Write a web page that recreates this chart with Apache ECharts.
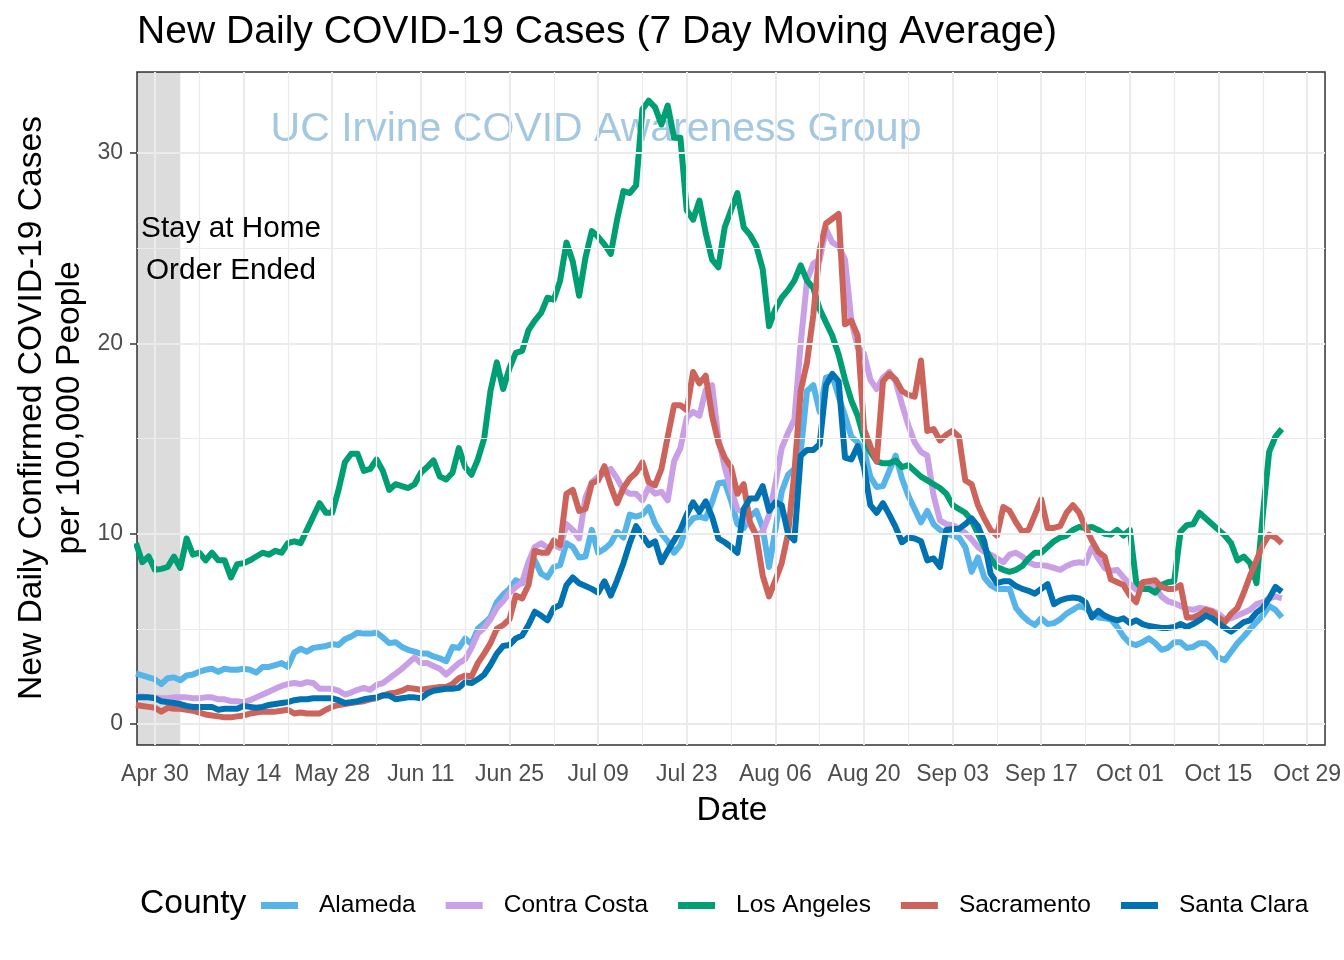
<!DOCTYPE html>
<html><head><meta charset="utf-8">
<script src="https://cdn.jsdelivr.net/npm/echarts@6/dist/echarts.min.js"></script>
<style>html,body{margin:0;padding:0;background:#fff}#chart{width:1344px;height:960px}</style>
</head><body><div id="chart"></div>
<script>
// ---- data (daily 7-day moving average, new cases per 100,000), first day 2020-04-27 ----
const startDate = '2020-04-27';
const countyNames = ['Alameda', 'Contra Costa', 'Los Angeles', 'Sacramento', 'Santa Clara'];

const alameda = [
  2.65, 2.55, 2.45, 2.35, 2.1, 2.4, 2.45,
  2.3, 2.55, 2.6, 2.75, 2.85, 2.9, 2.75,
  2.9, 2.85, 2.85, 2.9, 2.85, 2.7, 3.0,
  3.0, 3.1, 3.2, 3.0, 3.75, 3.95, 3.8,
  4.0, 4.05, 4.1, 4.2, 4.15, 4.45, 4.6,
  4.8, 4.75, 4.75, 4.8, 4.55, 4.25, 4.3,
  4.05, 3.9, 3.8, 3.7, 3.7, 3.55, 3.45,
  3.3, 4.05, 4.0, 4.5, 4.2, 5.0, 5.3,
  5.6, 6.4, 6.8, 7.1, 7.55, 7.4, 8.3,
  8.6, 7.9, 7.7, 8.25, 8.35, 9.5, 9.3,
  8.75, 8.8, 10.2, 9.0, 9.2, 9.5, 10.1,
  9.8, 11.0, 10.9, 11.0, 11.4, 10.55, 10.0,
  9.6, 9.0, 9.4, 10.4, 10.8, 10.9, 10.8,
  11.65, 12.65, 12.7, 11.75, 10.5, 10.3, 10.9,
  11.2, 10.3, 8.25, 10.2, 12.2, 13.1, 13.4,
  14.3, 17.5, 17.8, 16.4, 18.2, 18.3, 17.2,
  16.2, 15.1, 14.8, 14.4, 13.0, 12.45, 12.5,
  13.3, 14.1, 12.9, 12.0, 11.3, 10.6, 11.2,
  10.5, 10.2, 10.0, 9.9, 9.8, 9.3, 8.0,
  8.75, 7.7, 7.3, 7.1, 7.1, 7.1, 6.1,
  5.7, 5.4, 5.2, 5.55, 5.25, 5.3, 5.5,
  5.8, 6.0, 6.2, 6.1, 5.8, 5.6, 5.55,
  5.5, 5.1, 4.6, 4.25, 4.15, 4.3, 4.5,
  4.25, 3.9, 4.0, 4.3, 4.3, 4.0, 4.05,
  4.25, 4.25, 3.95, 3.5, 3.35, 3.8, 4.25,
  4.6, 5.0, 5.35, 5.7, 6.2, 6.0, 5.6
];
const contraCosta = [
  1.45, 1.45, 1.4, 1.4, 1.35, 1.35, 1.4,
  1.4, 1.4, 1.35, 1.35, 1.4, 1.4, 1.3,
  1.3, 1.2, 1.2, 1.15, 1.25, 1.4, 1.55,
  1.7, 1.85, 2.0, 2.1, 2.15, 2.1, 2.2,
  2.15, 1.85, 1.85, 1.85, 1.75, 1.55, 1.65,
  1.8, 1.9, 1.8, 2.05, 2.15, 2.4, 2.65,
  2.9, 3.2, 3.5, 3.2, 3.2, 3.05, 2.9,
  2.6, 2.9, 3.2, 3.4, 4.0, 4.75, 5.05,
  5.5, 6.1, 6.45, 6.9, 7.2, 7.45, 8.5,
  9.3, 9.5, 9.25, 9.4, 9.25, 10.5, 10.2,
  9.75, 11.9, 12.7, 13.0, 13.15, 13.4, 12.9,
  12.3, 12.1, 12.1, 11.75, 12.45, 12.1, 12.2,
  11.75, 13.8, 14.5, 16.1, 16.4, 16.2, 17.55,
  17.8, 15.0, 13.5, 12.3, 11.3, 11.1, 10.5,
  9.9, 10.1, 11.0, 12.6, 14.5, 15.3, 16.0,
  20.0, 23.3, 24.2, 24.4, 26.0, 25.3, 25.1,
  24.4, 21.2, 19.8, 19.45, 18.1, 17.6, 18.2,
  18.5, 18.0, 16.8, 15.7, 14.8, 14.3, 14.1,
  12.0, 10.7, 10.5, 10.45, 10.25, 10.05, 9.7,
  9.3, 9.05, 8.9, 8.7, 8.5, 8.9, 9.0,
  8.8, 8.5, 8.35, 8.35, 8.3, 8.2, 8.1,
  8.3, 8.45, 8.5, 8.45, 9.3, 8.7, 8.2,
  8.05, 8.1, 7.7, 7.35, 7.05, 7.15, 7.2,
  7.2, 6.7, 6.45, 6.35, 6.2, 6.05, 6.0,
  6.1, 6.05, 5.95, 5.8, 5.5, 5.55, 5.7,
  5.85, 6.0, 6.3, 6.4, 6.6, 6.7, 6.6
];
const losAngeles = [
  9.5, 8.5, 8.8, 8.1, 8.15, 8.25, 8.8,
  8.2, 9.75, 8.9, 9.0, 8.6, 9.0, 8.6,
  8.6, 7.7, 8.4, 8.45, 8.6, 8.8, 9.0,
  8.9, 9.1, 9.0, 9.5, 9.6, 9.5, 10.2,
  10.9, 11.6, 11.1, 11.1, 12.3, 13.75, 14.2,
  14.2, 13.3, 13.4, 13.9, 13.3, 12.3, 12.6,
  12.5, 12.4, 12.6, 13.2, 13.5, 13.85, 13.0,
  12.85, 13.2, 14.5, 13.5, 13.1, 13.9, 15.0,
  17.5, 19.0, 17.6, 18.7, 19.5, 19.6, 20.7,
  21.2, 21.6, 22.4, 22.3, 23.3, 25.3, 24.3,
  22.5, 24.5, 25.9, 25.6, 25.2, 24.7, 26.5,
  28.0, 27.9, 28.3, 32.3, 32.75, 32.4, 31.5,
  32.5, 30.8, 30.8, 27.0, 26.5, 27.5, 25.8,
  24.4, 24.0, 26.1, 27.0, 27.9, 26.1, 25.7,
  25.1, 23.9, 20.9, 21.8, 22.4, 22.8, 23.3,
  24.1, 23.3, 22.9, 21.8, 21.1, 20.4, 19.4,
  18.1, 17.0, 16.2, 15.0, 14.3, 13.8, 13.7,
  13.7, 13.85, 13.5, 13.6, 13.3, 13.0, 12.8,
  12.6, 12.4, 12.1, 11.5, 11.3, 11.1, 10.7,
  10.0, 9.3, 8.7, 8.25, 8.1, 8.0, 8.1,
  8.3, 8.7, 9.0, 9.0, 9.3, 9.6, 9.8,
  9.9, 10.2, 10.35, 10.3, 10.35, 10.2, 10.0,
  9.95, 10.2, 9.9, 10.2, 7.45, 7.1, 7.1,
  6.9, 7.3, 7.45, 7.5, 10.1, 10.45, 10.5,
  11.1, 10.8, 10.5, 10.2, 9.9, 9.5, 8.6,
  8.8, 8.45, 7.4, 11.0, 14.3, 15.1, 15.5
];
const sacramento = [
  1.0, 0.95, 0.9, 0.85, 0.65, 0.85, 0.8,
  0.8, 0.75, 0.7, 0.6, 0.5, 0.45, 0.4,
  0.35, 0.35, 0.4, 0.45, 0.55, 0.6, 0.65,
  0.65, 0.65, 0.7, 0.75, 0.55, 0.6, 0.55,
  0.55, 0.55, 0.75, 0.9, 1.0, 1.05, 1.1,
  1.15, 1.2, 1.3, 1.35, 1.5, 1.6, 1.65,
  1.75, 1.9, 1.85, 1.8, 1.85, 1.9, 1.95,
  1.95, 2.1, 2.4, 2.55, 2.5, 3.2, 3.7,
  4.25, 5.0, 5.2, 5.5, 6.75, 6.6, 7.3,
  9.1, 9.0, 9.0, 9.65, 9.4, 12.1, 12.3,
  11.2, 11.3, 12.65, 12.8, 13.55, 12.5, 11.6,
  12.4, 12.9, 13.2, 13.75, 12.7, 12.55, 13.4,
  15.1, 16.75, 16.75, 16.5, 18.5, 17.9, 18.3,
  16.2, 14.8, 14.0, 13.5, 12.1, 12.6, 10.6,
  9.9, 7.8, 6.7, 7.55, 8.45, 10.0, 13.2,
  17.5, 19.0, 21.5, 24.9, 26.3, 26.55, 26.8,
  21.0, 21.2, 20.4, 15.5, 14.6, 13.8, 18.0,
  18.4, 18.1, 17.5, 17.3, 17.2, 19.1, 15.4,
  15.5, 14.9, 15.2, 15.4, 15.1, 12.8, 12.6,
  11.5, 10.8, 10.2, 9.9, 11.4, 11.2, 10.6,
  10.1, 10.2, 11.0, 11.8, 10.3, 10.3, 10.4,
  11.1, 11.5, 11.1, 10.3, 9.65, 9.05, 8.8,
  7.6, 7.45, 7.3, 6.75, 6.4, 7.45, 7.5,
  7.55, 7.2, 7.1, 7.1, 7.3, 5.6, 5.6,
  5.75, 6.0, 5.9, 5.6, 5.35, 5.8, 6.1,
  6.9, 7.8, 8.6, 9.4, 9.95, 9.8, 9.5
];
const santaClara = [
  1.4, 1.4, 1.4, 1.35, 1.2, 1.15, 1.1,
  1.05, 0.95, 0.9, 0.9, 0.9, 0.9, 0.75,
  0.8, 0.8, 0.8, 0.95, 0.9, 0.85, 0.9,
  1.0, 1.05, 1.1, 1.15, 1.25, 1.3, 1.3,
  1.35, 1.35, 1.35, 1.35, 1.25, 1.1, 1.15,
  1.2, 1.3, 1.35, 1.4, 1.5, 1.5, 1.3,
  1.35, 1.4, 1.4, 1.35, 1.6, 1.75, 1.8,
  1.85, 1.85, 1.9, 2.2, 2.15, 2.35, 2.6,
  3.1, 3.7, 4.1, 4.15, 4.5, 4.65, 5.2,
  5.9, 5.7, 5.45, 6.1, 6.25, 7.3, 7.7,
  7.4, 7.25, 7.1, 6.9, 7.5, 6.75, 7.55,
  8.45, 9.5, 10.4, 9.9, 9.4, 9.6, 8.5,
  9.1, 9.65, 10.2, 11.0, 11.65, 11.15, 11.7,
  10.9, 9.75, 9.55, 9.3, 9.0, 11.3, 11.85,
  11.85, 12.5, 11.2, 11.65, 11.5, 10.0, 9.65,
  14.1, 14.4, 14.4, 14.7, 17.8, 18.4, 18.0,
  14.0, 13.9, 14.6, 13.5, 11.5, 11.1, 11.6,
  11.0, 10.35, 9.55, 9.8, 9.75, 9.6, 8.6,
  8.7, 8.25, 10.2, 10.25, 10.25, 10.5, 10.8,
  10.4, 9.6, 7.9, 7.4, 7.5, 7.5, 7.25,
  7.1, 7.0, 6.85, 7.1, 7.35, 6.3, 6.5,
  6.6, 6.65, 6.6, 6.4, 5.6, 5.95, 5.7,
  5.55, 5.45, 5.55, 5.3, 5.45, 5.25, 5.15,
  5.1, 5.05, 5.05, 5.1, 5.25, 5.1, 5.25,
  5.45, 5.7, 5.55, 5.3, 5.05, 4.85, 5.1,
  5.35, 5.45, 5.85, 6.1, 6.6, 7.2, 6.95
];

const tickDates = ['2020-04-30','2020-05-14','2020-05-28','2020-06-11','2020-06-25','2020-07-09','2020-07-23',
                   '2020-08-06','2020-08-20','2020-09-03','2020-09-17','2020-10-01','2020-10-15','2020-10-29'];
const tickLabels = ['Apr 30','May 14','May 28','Jun 11','Jun 25','Jul 09','Jul 23',
                    'Aug 06','Aug 20','Sep 03','Sep 17','Oct 01','Oct 15','Oct 29'];
const minorDates = ['2020-05-07','2020-05-21','2020-06-04','2020-06-18','2020-07-02','2020-07-16','2020-07-30',
                    '2020-08-13','2020-08-27','2020-09-10','2020-09-24','2020-10-08','2020-10-22'];
const yTicks = [0, 10, 20, 30];
const yMinor = [5, 15, 25];
const shadeEnd = '2020-05-04';

// ---- build ----
const DAY = 86400000;
const t0 = Date.parse(startDate);
const X_MIN = Date.parse('2020-04-27T03:52:00Z');
const X_MAX = Date.parse('2020-10-31T19:55:00Z');
const Y_MIN = -1.103, Y_MAX = 34.26;
const tickTs = tickDates.map(d => Date.parse(d));
const FONT = '"Liberation Sans", Arial, Helvetica, sans-serif';
const colors = ['#56B4E9', '#C9A0E6', '#009E73', '#CD645C', '#0072B2'];
const seriesValues = [alameda, contraCosta, losAngeles, sacramento, santaClara];

const lineSeries = countyNames.map((name, k) => ({
  name: name,
  type: 'line',
  z: 3,
  showSymbol: false,
  symbol: 'none',
  smooth: false,
  clip: true,
  lineStyle: { width: 6, color: colors[k], join: 'round', cap: 'butt' },
  itemStyle: { color: colors[k] },
  emphasis: { disabled: true },
  data: seriesValues[k].map((v, i) => [t0 + i * DAY, v])
}));

const gridLineData = [];
tickDates.forEach(d => gridLineData.push({ xAxis: Date.parse(d), lineStyle: { color: '#EBEBEB', width: 2, type: 'solid' } }));
minorDates.forEach(d => gridLineData.push({ xAxis: Date.parse(d), lineStyle: { color: '#EBEBEB', width: 1.2, type: 'solid' } }));
yTicks.forEach(v => gridLineData.push({ yAxis: v, lineStyle: { color: '#EBEBEB', width: 2, type: 'solid' } }));
yMinor.forEach(v => gridLineData.push({ yAxis: v, lineStyle: { color: '#EBEBEB', width: 1.2, type: 'solid' } }));

const chart = echarts.init(document.getElementById('chart'), null, { renderer: 'canvas' });
chart.setOption({
  animation: false,
  backgroundColor: '#ffffff',
  grid: { left: 137, right: 17, top: 72, bottom: 215, show: true, borderColor: '#333333', borderWidth: 1.5, backgroundColor: 'transparent' },
  xAxis: {
    type: 'value', min: X_MIN, max: X_MAX, scale: true,
    axisLine: { show: false },
    axisTick: { show: true, customValues: tickTs, length: 7, lineStyle: { color: '#333333', width: 1.5 } },
    axisLabel: {
      customValues: tickTs, margin: 18, fontSize: 23, color: '#4D4D4D', fontFamily: FONT,
      formatter: function (val) { const i = tickTs.indexOf(Number(val)); return i >= 0 ? tickLabels[i] : ''; }
    },
    splitLine: { show: false }
  },
  yAxis: {
    type: 'value', min: Y_MIN, max: Y_MAX,
    axisLine: { show: false },
    axisTick: { show: true, customValues: yTicks, length: 7, lineStyle: { color: '#333333', width: 1.5 } },
    axisLabel: { customValues: yTicks, margin: 14, fontSize: 23, color: '#4D4D4D', fontFamily: FONT },
    splitLine: { show: false }
  },
  legend: {
    data: countyNames, left: 261, top: 893, padding: 0, icon: 'rect', itemWidth: 37, itemHeight: 7, itemGap: 30,
    textStyle: { fontSize: 24.5, color: '#000', fontFamily: FONT, padding: [0, 0, 0, 16] },
    selectedMode: false
  },
  graphic: [
    { type: 'text', x: 137, y: 32, z: 10, style: { text: 'New Daily COVID-19 Cases (7 Day Moving Average)', fontSize: 39.1, fill: '#000', fontFamily: FONT, align: 'left', verticalAlign: 'middle' } },
    { type: 'text', x: 32, y: 408, rotation: Math.PI / 2, z: 10, style: { text: 'New Daily Confirmed COVID-19 Cases', fontSize: 33.6, fill: '#000', fontFamily: FONT, align: 'center', verticalAlign: 'middle' } },
    { type: 'text', x: 70, y: 408, rotation: Math.PI / 2, z: 10, style: { text: 'per 100,000 People', fontSize: 33.6, fill: '#000', fontFamily: FONT, align: 'center', verticalAlign: 'middle' } },
    { type: 'text', x: 732, y: 811, z: 10, style: { text: 'Date', fontSize: 33.6, fill: '#000', fontFamily: FONT, align: 'center', verticalAlign: 'middle' } },
    { type: 'text', x: 140, y: 904, z: 10, style: { text: 'County', fontSize: 33.6, fill: '#000', fontFamily: FONT, align: 'left', verticalAlign: 'middle' } },
    { type: 'text', x: 596, y: 130, z: 1, style: { text: 'UC Irvine COVID Awareness Group', fontSize: 41, fill: '#A5C8E1', fontFamily: FONT, align: 'center', verticalAlign: 'middle' } },
    { type: 'text', x: 231, y: 229, z: 10, style: { text: 'Stay at Home', fontSize: 29.7, fill: '#000', fontFamily: FONT, align: 'center', verticalAlign: 'middle' } },
    { type: 'text', x: 231, y: 271, z: 10, style: { text: 'Order Ended', fontSize: 29.7, fill: '#000', fontFamily: FONT, align: 'center', verticalAlign: 'middle' } }
  ],
  series: [
    {
      name: 'gridlines', type: 'line', z: 1, silent: true, showSymbol: false, data: [[X_MIN, null]],
      markLine: { silent: true, symbol: ['none', 'none'], label: { show: false }, emphasis: { disabled: true }, animation: false, data: gridLineData }
    }
  ].concat(lineSeries).concat([
    {
      name: 'shade', type: 'line', z: 6, silent: true, showSymbol: false, data: [[X_MIN, null]],
      markArea: { silent: true, itemStyle: { color: 'rgba(0,0,0,0.137)' }, emphasis: { disabled: true }, label: { show: false },
        data: [[{ xAxis: X_MIN }, { xAxis: Date.parse(shadeEnd) }]] }
    }
  ])
});
</script>
</body></html>
